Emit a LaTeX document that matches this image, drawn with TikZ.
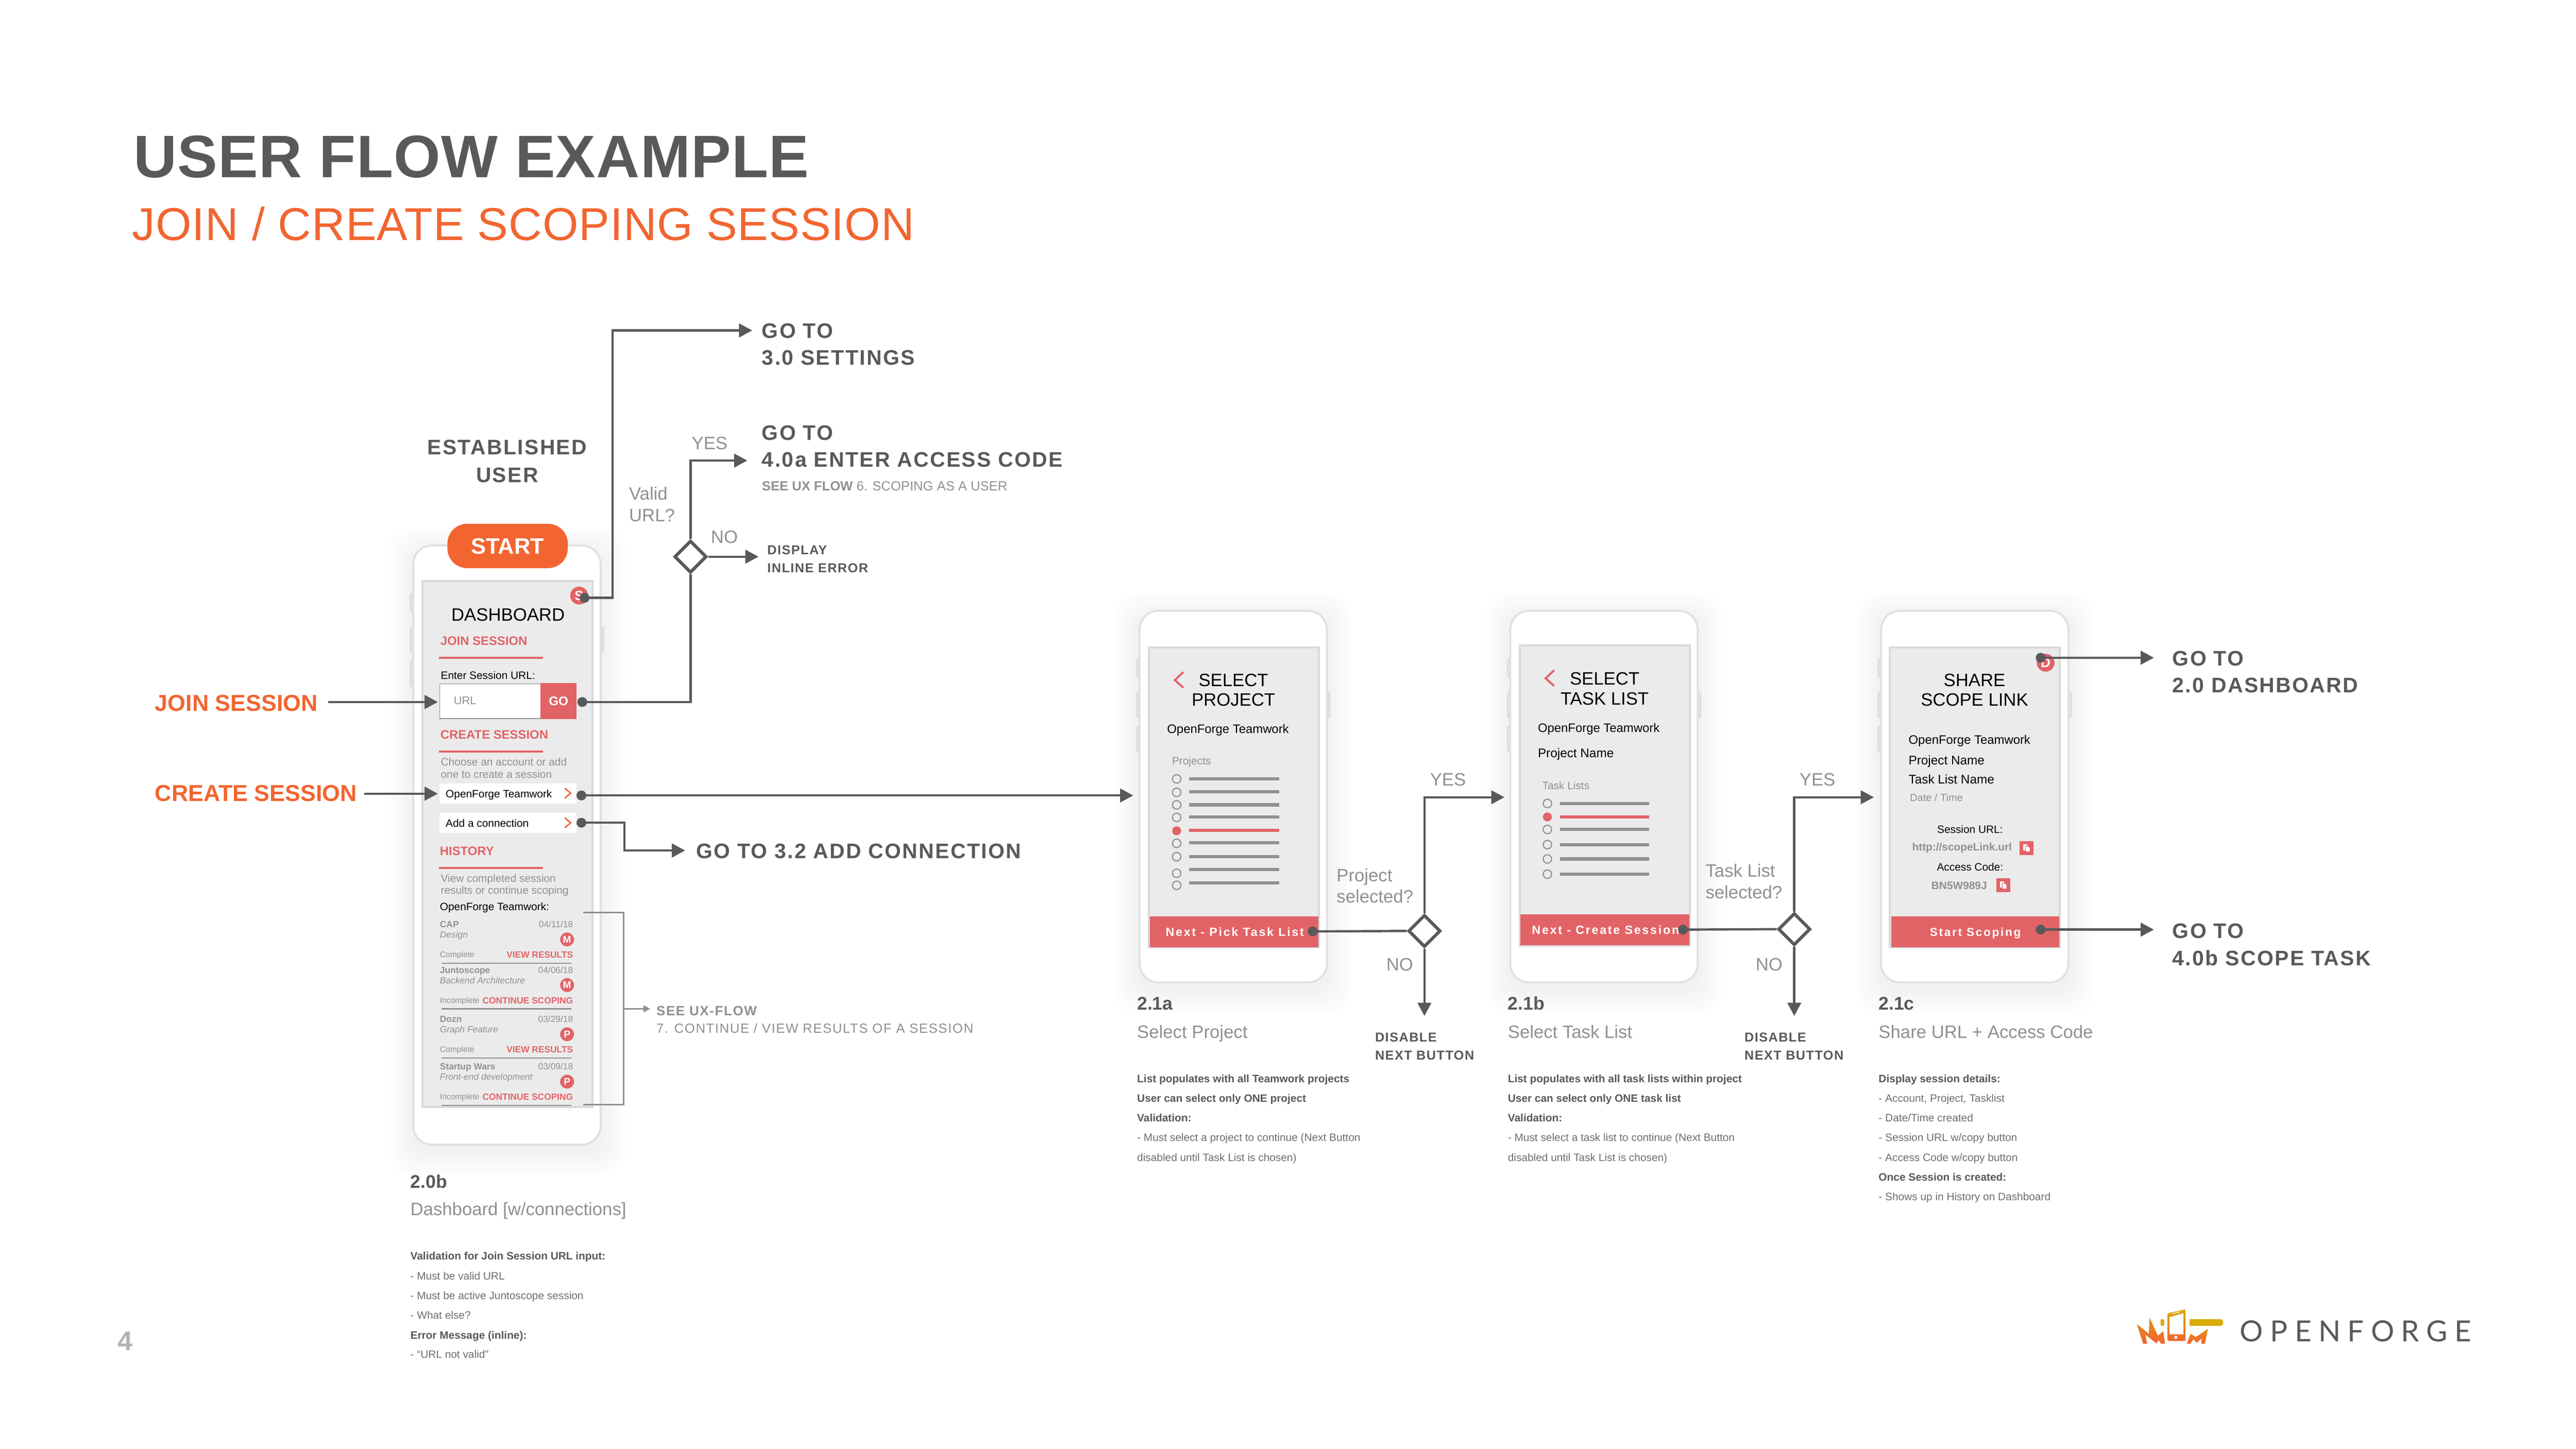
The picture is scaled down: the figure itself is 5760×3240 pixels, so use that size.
\documentclass[tikz,border=0pt]{standalone}
\usepackage{fontspec}
\setmainfont{Liberation Sans}
\newfontfamily\lsfont[LetterSpace=6]{Liberation Sans}
\newfontfamily\wdfont[LetterSpace=12]{Liberation Sans}
\newfontfamily\hdfont[LetterSpace=1.1]{Liberation Sans}
\newfontfamily\logofont[LetterSpace=24]{Lato}
\usetikzlibrary{arrows.meta}
\usetikzlibrary{shapes.geometric}
\newcommand{\fpx}[1]{\fontsize{\fpeval{#1*0.2845}}{\fpeval{#1*0.34}}\selectfont}
\definecolor{dk}{HTML}{58595B}
\definecolor{md}{HTML}{6D6E70}
\definecolor{gy}{HTML}{8E9092}
\definecolor{rd}{HTML}{E26366}
\definecolor{og}{HTML}{F26530}
\definecolor{scr}{HTML}{EBEBEB}
\definecolor{scrb}{HTML}{D9D9D9}
\definecolor{phb}{HTML}{E0E0E0}
\definecolor{gd}{HTML}{D9AB0C}
\tikzset{
 tx/.style={inner sep=0pt, anchor=base west, yshift=-#1*.102pt, font=\fpx{#1}},
 tb/.style={inner sep=0pt, anchor=base west, yshift=-#1*.102pt, font=\bfseries\fpx{#1}},
 ti/.style={inner sep=0pt, anchor=base west, yshift=-#1*.102pt, font=\itshape\fpx{#1}},
 th/.style={inner sep=0pt, anchor=base west, yshift=-#1*.102pt, font=\hdfont\fpx{#1}},
 tl/.style={inner sep=0pt, anchor=base west, yshift=-#1*.102pt, font=\lsfont\fpx{#1}},
 tw/.style={inner sep=0pt, anchor=base west, yshift=-#1*.102pt, font=\lsfont\bfseries\fpx{#1}},
 tn/.style={inner sep=0pt, anchor=base, yshift=-#1*.102pt, font=\wdfont\bfseries\fpx{#1}, text=white},
 ctr/.style={anchor=base},
 rgt/.style={anchor=base east},
 flow/.style={draw=dk, line width=1.45pt, ->, >={Triangle[length=8.4pt,width=8.6pt]}},
 small/.style={draw=gy, line width=1pt, ->, >={Triangle[length=4.3pt,width=4.3pt]}},
 dot/.style={circle, fill=dk, inner sep=0pt, minimum size=.22cm},
 decide/.style={diamond, aspect=1, draw=dk, fill=white, line width=2pt, inner sep=0pt, minimum size=.72cm},
 badge/.style={circle, fill=rd, inner sep=0pt, minimum size=.31cm, text=white, font=\bfseries\fpx{22}},
 phone/.style={draw=phb, fill=white, line width=1.2pt, rounded corners=.42cm},
 screen/.style={draw=scrb, fill=scr, line width=1.3pt},
 rbar/.style={draw=rd, line width=1.2pt},
 gbar/.style={draw=gy, line width=2pt},
 radio/.style={draw=gy, line width=.7pt, fill=scr},
}
\begin{document}
\begin{tikzpicture}[x=.01cm,y=-.01cm]
\useasboundingbox (0,0) rectangle (5760,3240);
\fill[white] (0,0) rectangle (5760,3240);
% title
\node[th=134, text=dk, font=\hdfont\bfseries\fpx{134}] (title) at (298,349) {USER FLOW EXAMPLE};
\node[th=103, text=og] (subtitle) at (295,500) {JOIN / CREATE SCOPING SESSION};
% phones, soft edge first
\foreach \fx/\fy/\fh in {924/1220/1340, 2548/1366/831, 3377/1366/831, 4206/1366/831} {
 \foreach \s in {4,8,...,56} {
  \fill[black, opacity=.005, rounded corners=.5cm] (\fx-\s,\fy-\s+14) rectangle (\fx+419+\s,\fy+\fh+\s+14);
 }
 \fill[phb, rounded corners=.05cm] (\fx-8,\fy+106) rectangle ++(12,44);
 \fill[phb, rounded corners=.05cm] (\fx-8,\fy+180) rectangle ++(12,61);
 \fill[phb, rounded corners=.05cm] (\fx-8,\fy+256) rectangle ++(12,61);
 \fill[phb, rounded corners=.05cm] (\fx+415,\fy+180) rectangle ++(12,61);
 \draw[phone] (\fx,\fy) rectangle ++(419,\fh);
}
\draw[screen] (945,1300) rectangle (1325,2476);
\draw[screen] (2569,1448) rectangle (2949,2119);
\draw[screen] (3398,1444) rectangle (3778,2115);
\draw[screen] (4226,1448) rectangle (4606,2119);
% dashboard
\node[tx=40, ctr] (dashT) at (1136,1374) {DASHBOARD};
\node[tb=27.5, text=rd] (joinT) at (984,1433) {JOIN SESSION};
\draw[rbar] (982,1471) -- (1214,1471);
\node[tx=24] (urlT) at (985,1510) {Enter Session URL:};
\draw[fill=white, draw=gy, line width=.4pt] (983,1529) rectangle (1209,1607);
\node[tx=25, text=gy] (urlIn) at (1014,1566) {URL};
\fill[rd] (1209,1528) rectangle (1289,1608);
\node[tb=28, ctr, text=white] (goBtn) at (1249,1568) {GO};
\node[tb=27.5, text=rd] (createT) at (984,1643) {CREATE SESSION};
\draw[rbar] (982,1681) -- (1214,1681);
\node[tx=24, text=gy] (choose1) at (985,1704) {Choose an account or add};
\node[tx=24, text=gy] (choose2) at (985,1732) {one to create a session};
\foreach \i/\fy/\lab in {1/1752/OpenForge Teamwork, 2/1818/Add a connection} {
 \fill[white] (983,\fy) rectangle (1289,\fy+45);
 \node[tx=24] (row\i) at (996,\fy+23) {\lab};
 \draw[og, line width=.9pt] (1263,\fy+11) -- (1276,\fy+22) -- (1263,\fy+33);
}
\node[tb=27.5, text=rd] (histT) at (983,1903) {HISTORY};
\draw[rbar] (982,1941) -- (1214,1941);
\node[tx=24, text=gy] (view1) at (985,1964) {View completed session};
\node[tx=24, text=gy] (view2) at (985,1991) {results or continue scoping};
\node[tx=24] (ofTeam) at (983,2028) {OpenForge Teamwork:};
\foreach \i/\fy/\nm/\dte/\sbj/\av/\st/\act in {1/2067/CAP/04\slash 11\slash 18/Design/M/Complete/VIEW RESULTS, 2/2169/Juntoscope/04\slash 06\slash 18/Backend Architecture/M/Incomplete/CONTINUE SCOPING, 3/2279/Dozn/03\slash 29\slash 18/Graph Feature/P/Complete/VIEW RESULTS, 4/2385/Startup Wars/03\slash 09\slash 18/Front-end development/P/Incomplete/CONTINUE SCOPING} {
 \node[tb=20, text=gy] (hName\i) at (983,\fy) {\nm};
 \node[tx=20, rgt, text=gy] (hDate\i) at (1282,\fy) {\dte};
 \node[ti=20, text=gy] (hSub\i) at (983,\fy+23) {\sbj};
 \node[badge] (hAv\i) at (1268,\fy+34) {\av};
 \node[tx=18, text=gy] (hSt\i) at (983,\fy+68) {\st};
 \node[tb=20, rgt, text=rd] (hAct\i) at (1282,\fy+68) {\act};
 \draw[draw=gy, line width=.8pt] (987,\fy+87) -- (1278,\fy+87);
}
% 2.1a
\draw[rd, line width=1.3pt] (2646,1503) -- (2627,1521) -- (2646,1538);
\node[tx=40, ctr] (sel1) at (2758,1521) {SELECT};
\node[tx=40, ctr] (sel2) at (2758,1565) {PROJECT};
\node[tx=27.5] (ofA) at (2609,1630) {OpenForge Teamwork};
\node[tx=24, text=gy] (projT) at (2620,1702) {Projects};
\foreach \fy/\ly in {1742/1742, 1772/1771, 1800/1800, 1828/1827, 1886/1885, 1916/1916, 1953/1945, 1980/1974} {
 \draw[radio] (2631,\fy) circle (.095cm);
 \draw[gbar] (2659,\ly) -- (2860,\ly);
}
\fill[rd] (2631,1858) circle (.1cm);
\draw[rd, line width=2pt] (2659,1857) -- (2860,1857);
\fill[rd] (2571,2049) rectangle (2948,2118);
\node[tn=26.7] (nextA) at (2761,2084) {Next - Pick Task List};
% 2.1b
\draw[rd, line width=1.3pt] (3475,1499) -- (3456,1517) -- (3475,1534);
\node[tx=40, ctr] (sel3) at (3588,1517) {SELECT};
\node[tx=40, ctr] (sel4) at (3588,1562) {TASK LIST};
\node[tx=27.5] (ofB) at (3438,1628) {OpenForge Teamwork};
\node[tx=28] (pnB) at (3438,1684) {Project Name};
\node[tx=24, text=gy] (listT) at (3448,1757) {Task Lists};
\foreach \fy in {1797,1855,1889,1921,1955} {
 \draw[radio] (3460,\fy) circle (.095cm);
 \draw[gbar] (3488,\fy) -- (3688,\fy);
}
\fill[rd] (3460,1827) circle (.1cm);
\draw[rd, line width=2pt] (3488,1827) -- (3688,1827);
\fill[rd] (3400,2045) rectangle (3777,2114);
\node[tn=26.7] (nextB) at (3590,2080) {Next - Create Session};
% 2.1c
\node[tx=40, ctr] (shr1) at (4415,1521) {SHARE};
\node[tx=40, ctr] (shr2) at (4415,1565) {SCOPE LINK};
\node[tx=27.5] (ofC) at (4267,1654) {OpenForge Teamwork};
\node[tx=28] (pnC) at (4267,1700) {Project Name};
\node[tx=28] (tlC) at (4267,1743) {Task List Name};
\node[tx=23, text=gy] (dtC) at (4270,1784) {Date / Time};
\node[tx=24, ctr] (surl) at (4405,1855) {Session URL:};
\node[tb=24, text=gy] (slink) at (4275,1894) {http://scopeLink.url};
\node[tx=24, ctr] (acode) at (4405,1939) {Access Code:};
\node[tb=24, text=gy] (acval) at (4318,1980) {BN5W989J};
\foreach \fx/\fy in {4516/1881, 4464/1964} {
 \fill[rd] (\fx,\fy) rectangle ++(31,31);
 \fill[white] (\fx+8,\fy+7) rectangle ++(9,14);
 \draw[rd, fill=white, line width=.3pt] (\fx+13,\fy+11) -- ++(6,0) -- ++(4,4) -- ++(0,9) -- ++(-10,0) -- cycle;
}
\fill[rd] (4229,2049) rectangle (4604,2118);
\node[tn=26] (startS) at (4417,2084) {Start Scoping};
\node[badge, minimum size=.4cm, font=\bfseries\fpx{30}] (badgeD) at (4574,1482) {D};
\node[badge, minimum size=.4cm, font=\bfseries\fpx{30}] (badgeS) at (1295,1332) {S};
% start pill
\node[rounded corners=.44cm, fill=og, minimum width=2.69cm, minimum height=.99cm, inner sep=0pt] (startPill) at (1135,1221) {};
\node[tb=50, ctr, text=white] (startT) at (1135,1221) {START};
% dots
\node[dot] (dotS) at (1307,1337) {};
\node[dot] (dotGo) at (1302,1570) {};
\node[dot] (dotTeam) at (1300,1779) {};
\node[dot] (dotAdd) at (1300,1840) {};
\node[dot] (dotA) at (2935,2083) {};
\node[dot] (dotB) at (3763,2079) {};
\node[dot] (dotD) at (4563,1471) {};
\node[dot] (dotC) at (4563,2079) {};
% decisions
\node[decide] (diaUrl) at (1544,1245) {};
\node[decide] (diaA) at (3185,2082) {};
\node[decide] (diaB) at (4012,2078) {};
% ends of the connectors
\coordinate (joinFrom) at (734,1570);
\coordinate (joinTo) at (979,1570);
\coordinate (createFrom) at (814,1775);
\coordinate (createTo) at (979,1775);
\coordinate (setBend) at (1370,739);
\coordinate (setTo) at (1682,739);
\coordinate (yesTo) at (1671,1030);
\coordinate (noTo) at (1696,1245);
\coordinate (teamTo) at (2534,1779);
\coordinate (addBend) at (1396,1902);
\coordinate (addTo) at (1532,1902);
\coordinate (yesAto) at (3364,1783);
\coordinate (noA) at (3185,2272);
\coordinate (yesBto) at (4190,1783);
\coordinate (noB) at (4012,2272);
\coordinate (dashTo) at (4816,1471);
\coordinate (scopeTo) at (4816,2079);
\coordinate (brTop) at (1304,2041);
\coordinate (brTopR) at (1394,2041);
\coordinate (brBotR) at (1394,2470);
\coordinate (brBot) at (1304,2470);
\coordinate (brMid) at (1394,2256);
\coordinate (brTo) at (1454,2256);
% connectors
\draw[flow] (joinFrom) -- (joinTo);
\draw[flow] (createFrom) -- (createTo);
\draw[flow] (dotS.center) -| (setBend) -- (setTo);
\draw[flow, -] (dotGo.center) -| (diaUrl.south);
\draw[flow] (diaUrl.north) |- (yesTo);
\draw[flow] (diaUrl.east) -- (noTo);
\draw[flow] (dotTeam.center) -- (teamTo);
\draw[flow] (dotAdd.center) -| (addBend) -- (addTo);
\draw[flow, -] (dotA.center) -- (diaA.west);
\draw[flow] (diaA.north) |- (yesAto);
\draw[flow] (diaA.south) -- (noA);
\draw[flow, -] (dotB.center) -- (diaB.west);
\draw[flow] (diaB.north) |- (yesBto);
\draw[flow] (diaB.south) -- (noB);
\draw[flow] (dotD.center) -- (dashTo);
\draw[flow] (dotC.center) -- (scopeTo);
\draw[gy, line width=1pt] (brTop) -- (brTopR) -- (brBotR) -- (brBot);
\draw[small] (brMid) -- (brTo);
% labels of the flow
\node[tb=51.5, text=og] (joinL) at (346,1572) {JOIN SESSION};
\node[tb=51.5, text=og] (createL) at (346,1774) {CREATE SESSION};
\node[tw=47, ctr, text=dk] (estA) at (1134,1000) {ESTABLISHED};
\node[tw=47, ctr, text=dk] (estB) at (1134,1062) {USER};
\node[tw=47, text=dk] (goSet1) at (1703,739) {GO TO};
\node[tw=47, text=dk] (goSet2) at (1703,799) {3.0 SETTINGS};
\node[tw=47, text=dk] (goAcc1) at (1703,967) {GO TO};
\node[tw=47, text=dk] (goAcc2) at (1703,1028) {4.0a ENTER ACCESS CODE};
\node[tx=29.5, text=gy] (seeA) at (1703,1087) {\textbf{SEE UX FLOW} 6. SCOPING AS A USER};
\node[tx=40, text=gy] (yesU) at (1546,991) {YES};
\node[tx=40, text=gy] (validA) at (1406,1104) {Valid};
\node[tx=40, text=gy] (validB) at (1406,1152) {URL?};
\node[tx=40, text=gy] (noU) at (1589,1201) {NO};
\node[tw=29, text=dk] (dispA) at (1715,1230) {DISPLAY};
\node[tw=29, text=dk] (dispB) at (1715,1270) {INLINE ERROR};
\node[tw=47, text=dk] (goAdd) at (1556,1903) {GO TO 3.2 ADD CONNECTION};
\node[tw=30, text=gy] (seeB) at (1467,2260) {SEE UX-FLOW};
\node[tl=29.7, text=gy] (seeC) at (1467,2300) {7. CONTINUE / VIEW RESULTS OF A SESSION};
\node[tx=40, text=gy] (yesLA) at (3197,1743) {YES};
\node[tx=40, text=gy] (qA1) at (2988,1957) {Project};
\node[tx=40, text=gy] (qA2) at (2988,2005) {selected?};
\node[tx=40, text=gy] (noLA) at (3099,2157) {NO};
\node[tw=29, text=dk] (disA1) at (3074,2319) {DISABLE};
\node[tw=29, text=dk] (disA2) at (3074,2360) {NEXT BUTTON};
\node[tx=40, text=gy] (yesLB) at (4023,1743) {YES};
\node[tx=40, text=gy] (qB1) at (3813,1947) {Task List};
\node[tx=40, text=gy] (qB2) at (3813,1995) {selected?};
\node[tx=40, text=gy] (noLB) at (3925,2157) {NO};
\node[tw=29, text=dk] (disB1) at (3900,2319) {DISABLE};
\node[tw=29, text=dk] (disB2) at (3900,2360) {NEXT BUTTON};
\node[tw=47, text=dk] (goD1) at (4857,1472) {GO TO};
\node[tw=47, text=dk] (goD2) at (4857,1532) {2.0 DASHBOARD};
\node[tw=47, text=dk] (goC1) at (4857,2081) {GO TO};
\node[tw=47, text=dk] (goC2) at (4857,2142) {4.0b SCOPE TASK};
% captions
\node[tb=41, text=dk] (capD) at (917,2642) {2.0b};
\node[tx=40, text=gy] (capD2) at (917,2704) {Dashboard [w/connections]};
\node[tb=41, text=dk] (capA) at (2542,2244) {2.1a};
\node[tx=40, text=gy] (capA2) at (2542,2307) {Select Project};
\node[tb=41, text=dk] (capB) at (3371,2244) {2.1b};
\node[tx=40, text=gy] (capB2) at (3371,2307) {Select Task List};
\node[tb=41, text=dk] (capC) at (4200,2244) {2.1c};
\node[tx=40, text=gy] (capC2) at (4200,2307) {Share URL + Access Code};
% notes
\node[tb=24, text=dk] (nD1) at (917,2809) {Validation for Join Session URL input:};
\node[tx=24, text=md] (nD2) at (917,2853) {- Must be valid URL};
\node[tx=24, text=md] (nD3) at (917,2897) {- Must be active Juntoscope session};
\node[tx=24, text=md] (nD4) at (917,2941) {- What else?};
\node[tb=24, text=dk] (nD5) at (917,2986) {Error Message (inline):};
\node[tx=24, text=md] (nD6) at (917,3029) {- “URL not valid”};
\node[tb=24, text=dk] (nA1) at (2542,2412) {List populates with all Teamwork projects};
\node[tb=24, text=dk] (nA2) at (2542,2456) {User can select only ONE project};
\node[tb=24, text=dk] (nA3) at (2542,2500) {Validation:};
\node[tx=24, text=md] (nA4) at (2542,2544) {- Must select a project to continue (Next Button};
\node[tx=24, text=md] (nA5) at (2542,2588) {disabled until Task List is chosen)};
\node[tb=24, text=dk] (nB1) at (3371,2412) {List populates with all task lists within project};
\node[tb=24, text=dk] (nB2) at (3371,2456) {User can select only ONE task list};
\node[tb=24, text=dk] (nB3) at (3371,2500) {Validation:};
\node[tx=24, text=md] (nB4) at (3371,2544) {- Must select a task list to continue (Next Button};
\node[tx=24, text=md] (nB5) at (3371,2588) {disabled until Task List is chosen)};
\node[tb=24, text=dk] (nC1) at (4200,2412) {Display session details:};
\node[tx=24, text=md] (nC2) at (4200,2456) {- Account, Project, Tasklist};
\node[tx=24, text=md] (nC3) at (4200,2500) {- Date/Time created};
\node[tx=24, text=md] (nC4) at (4200,2544) {- Session URL w/copy button};
\node[tx=24, text=md] (nC5) at (4200,2588) {- Access Code w/copy button};
\node[tb=24, text=dk] (nC6) at (4200,2632) {Once Session is created:};
\node[tx=24, text=md] (nC7) at (4200,2676) {- Shows up in History on Dashboard};
% page number and logo
\node[tb=60, text=black!30] (pageNo) at (262,2998) {4};
\shade[top color=gd!60!og, bottom color=og] (4778,2961) -- (4805,2983) -- (4806,2946) -- (4825,2987) -- (4837,2977) -- (4841,3005) -- (4832,3005) -- (4827,2997) -- (4822,3004) -- (4815,2999) -- (4797,2985) -- (4801,3005) -- (4792,3005) -- cycle;
\shade[top color=gd!60!og, bottom color=og] (4890,3005) -- (4898,2983) -- (4910,2990) -- (4937,2972) -- (4930,3005) -- (4922,3005) -- (4923,2993) -- (4912,3003) -- (4904,2995) -- (4898,3005) -- cycle;
\fill[gd, rounded corners=.03cm] (4839,2950) -- (4831,2950) -- (4831,2965) -- (4839,2965) -- cycle;
\shade[top color=gd, bottom color=og, rounded corners=.03cm] (4847,2937) -- (4887,2928) -- (4887,2999) -- (4847,2999) -- cycle;
\fill[white] (4851,2946) -- (4882,2937) -- (4882,2984) -- (4851,2984) -- cycle;
\draw[white, line width=.4pt] (4857,2938) -- (4874,2934);
\fill[white] (4865,2991) circle (.034cm);
\fill[gd, rounded corners=.06cm] (4896,2950) rectangle (4971,2965);
\fill[gd] (4896,2950) rectangle (4910,2965);
\node[inner sep=0pt, anchor=base west, yshift=-6.6pt, font=\logofont\fpx{65}, text=dk] (logoT) at (5008,2977) {OPENFORGE};
\end{tikzpicture}
\end{document}
